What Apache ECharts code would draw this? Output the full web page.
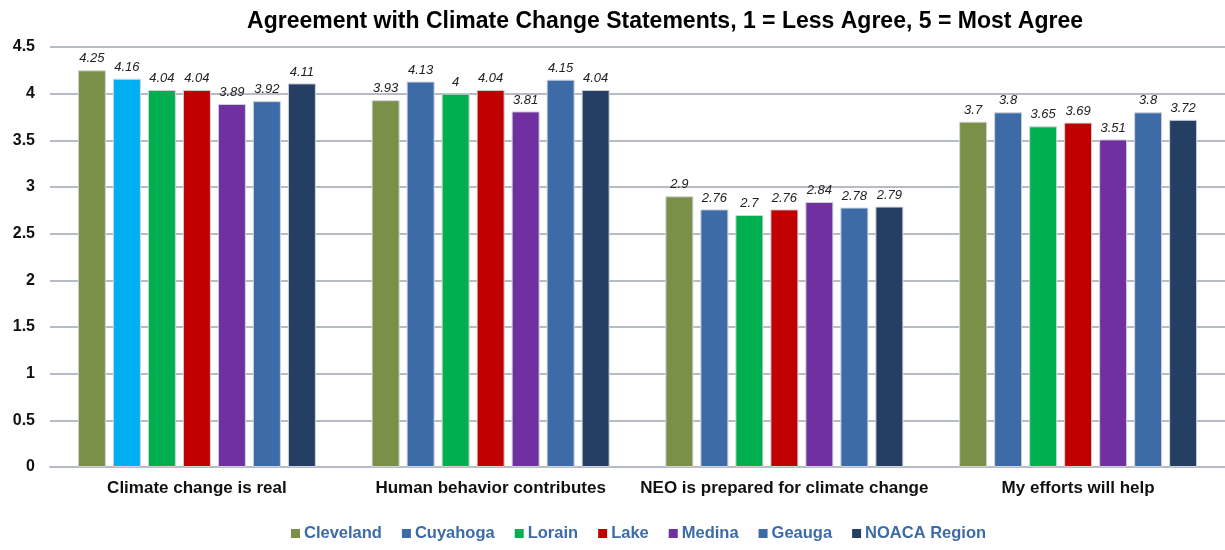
<!DOCTYPE html>
<html>
<head>
<meta charset="utf-8">
<script src="https://cdn.jsdelivr.net/npm/echarts@6/dist/echarts.min.js"></script>
<style>
  html, body { margin: 0; padding: 0; background: #fff; }
  #chart { width: 1225px; height: 550px; }
</style>
</head>
<body>
<div id="chart"></div>
<script>
const categories = [
  "Climate change is real",
  "Human behavior contributes",
  "NEO is prepared for climate change",
  "My efforts will help",
];
const seriesNames = ["Cleveland", "Cuyahoga", "Lorain", "Lake", "Medina", "Geauga", "NOACA Region"];
const cleveland = [4.25, 3.93, 2.9, 3.7];
const cuyahoga = [4.16, 4.13, 2.76, 3.8];
const lorain = [4.04, 4, 2.7, 3.65];
const lake = [4.04, 4.04, 2.76, 3.69];
const medina = [3.89, 3.81, 2.84, 3.51];
const geauga = [3.92, 4.15, 2.78, 3.8];
const noaca = [4.11, 4.04, 2.79, 3.72];
const yTicks = [0, 0.5, 1, 1.5, 2, 2.5, 3, 3.5, 4, 4.5];

const colors = ["#7A8F48", "#3D6BA7", "#00AF50", "#C00000", "#7030A0", "#3D6BA7", "#243F63"];
const cuyahogaFirstColor = "#00B0F0";

const values = [cleveland, cuyahoga, lorain, lake, medina, geauga, noaca];

const chart = echarts.init(document.getElementById("chart"));

const series = seriesNames.map((name, i) => ({
  name,
  type: "bar",
  barWidth: 28,
  barGap: "25%",
  data: values[i].map((v, j) =>
    i === 1 && j === 0 ? { value: v, itemStyle: { color: cuyahogaFirstColor } } : v
  ),
  itemStyle: { color: colors[i], borderColor: "#d0d4da", borderWidth: 1 },
  label: {
    show: true,
    position: "top",
    distance: 5,
    fontFamily: "Liberation Sans",
    fontStyle: "italic",
    fontSize: 13,
    color: "#222",
  },
}));

chart.setOption({
  animation: false,
  color: colors,
  title: {
    text: "Agreement with Climate Change Statements, 1 = Less Agree, 5 = Most Agree",
    left: 660,
    top: 5,
    textAlign: "center",
    textStyle: {
      fontFamily: "Liberation Sans",
      fontWeight: "bold",
      fontSize: 23,
      color: "#000",
    },
  },
  legend: {
    bottom: 3,
    left: 286,
    itemWidth: 9,
    itemHeight: 9,
    itemGap: 20,
    icon: "rect",
    textStyle: {
      fontFamily: "Liberation Sans",
      fontWeight: "bold",
      fontSize: 16.5,
      color: "#3D6BA7",
      padding: [0, 0, 0, -1],
    },
    data: seriesNames.map((n, i) => ({ name: n, itemStyle: { color: colors[i], borderWidth: 0 } })),
  },
  grid: { left: 50, width: 1183, top: 47, height: 420, containLabel: false },
  xAxis: {
    type: "category",
    data: categories,
    axisTick: { show: false },
    axisLine: { lineStyle: { color: "#B7BCC4", width: 2 } },
    axisLabel: {
      interval: 0,
      fontFamily: "Liberation Sans",
      fontWeight: "bold",
      fontSize: 17,
      color: "#111",
      margin: 13,
    },
  },
  yAxis: {
    type: "value",
    min: yTicks[0],
    max: yTicks[yTicks.length - 1],
    interval: 0.5,
    axisLine: { show: false },
    axisTick: { show: false },
    splitLine: { lineStyle: { color: "#B7BCC4", width: 2 } },
    axisLabel: {
      fontFamily: "Liberation Sans",
      fontWeight: "bold",
      fontSize: 16,
      color: "#111",
      margin: 15,
    },
  },
  series,
});
</script>
</body>
</html>
